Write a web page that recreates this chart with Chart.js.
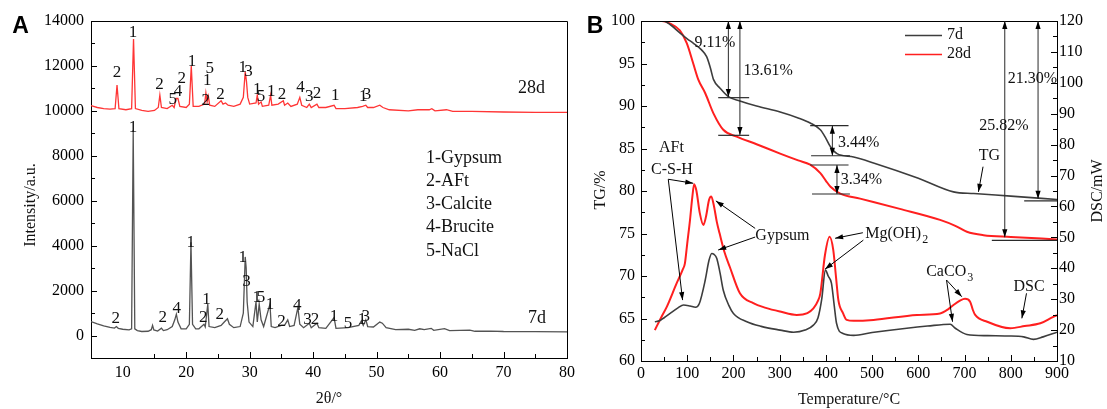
<!DOCTYPE html>
<html><head><meta charset="utf-8">
<script src="https://cdn.jsdelivr.net/npm/chart.js@4/dist/chart.umd.min.js"></script>
<style>
html,body{margin:0;padding:0;background:#fff;width:1107px;height:409px;overflow:hidden}
#wa{position:absolute;left:0;top:0;width:580px;height:409px}
#wb{position:absolute;left:580px;top:0;width:527px;height:409px}
</style></head><body>
<div id="wa"><canvas id="ca" width="580" height="409"></canvas></div>
<div id="wb"><canvas id="cb" width="527" height="409"></canvas></div>
<script>
// ---------- Panel A : XRD ----------
const xrd7dAngle = [5.0,6.0,7.0,8.0,8.7,9.0,9.3,10.0,11.0,11.4,11.65,11.9,12.3,13.0,14.0,14.5,14.7,14.9,15.5,16.1,16.4,17.0,17.8,18.2,18.45,18.7,19.2,20.0,20.5,20.75,21.0,21.5,22.0,22.8,23.0,23.4,23.6,24.5,25.5,26.0,26.5,26.8,27.5,28.5,29.0,29.3,29.45,29.6,29.9,30.5,31.0,31.2,31.5,31.8,32.2,33.2,33.4,34.0,35.0,35.5,36.0,36.3,37.0,37.6,37.9,38.5,39.4,39.7,40.6,40.9,42.0,43.3,43.6,45.5,47.2,47.6,47.9,48.3,48.6,49.5,50.5,50.9,51.5,53.0,55.0,56.0,56.8,57.5,58.6,59.0,60.7,61.5,64.7,65.5,68.0,70.0,75.0,80.0];
const xrd7dIntensity = [620,520,430,360,330,400,320,280,250,300,9150,300,220,180,190,260,450,250,200,330,220,260,400,700,950,600,300,300,500,4150,500,300,300,500,380,1400,400,350,450,600,750,500,350,400,1000,3500,3000,1500,600,400,1500,600,1400,700,400,1400,400,350,450,450,700,400,450,1250,500,350,550,350,550,350,320,800,320,350,450,650,450,700,400,380,600,550,350,260,280,230,300,260,320,230,310,220,240,190,200,180,170,160];
const xrd28dAngle = [5.0,6.0,7.0,8.0,8.8,9.1,9.4,10.5,11.4,11.7,12.0,13.0,14.0,15.0,15.6,15.85,16.1,17.0,17.8,18.1,18.4,18.7,19.0,20.0,20.5,20.8,21.1,22.0,22.9,23.1,23.3,23.5,23.7,24.5,25.5,25.8,26.2,26.6,27.5,28.5,29.0,29.3,29.5,29.7,30.0,31.0,31.2,31.4,31.8,32.0,33.0,33.3,33.5,34.5,35.3,35.5,36.0,36.5,37.5,37.9,38.2,39.0,39.4,39.7,40.6,40.9,42.0,43.3,43.6,45.0,47.0,47.8,48.3,48.6,49.5,50.5,51.0,52.0,55.0,56.5,57.2,58.3,58.7,59.2,61.0,62.0,65.0,70.0,75.0,80.0];
const xrd28dIntensity = [10230,10150,10100,10080,10100,11150,10100,10050,10100,13200,10100,10020,9980,10020,10150,10700,10150,10100,10250,10150,10550,10550,10200,10150,10300,12000,10200,10200,10300,10800,10400,10650,10250,10200,10450,10300,10350,10250,10200,10300,10600,11750,11300,10600,10300,10350,10700,10300,10400,10200,10250,10700,10250,10300,10450,10250,10350,10200,10300,10600,10250,10150,10300,10150,10300,10150,10150,10250,10100,10100,10150,10200,10250,10150,10150,10250,10150,10050,10000,10050,10050,10050,10100,10000,10050,9980,9980,9950,9930,9930];
const xrdTicksX = [10,20,30,40,50,60,70,80];
const xrdTicksY = [0,2000,4000,6000,8000,10000,12000,14000];
// peak labels: [2theta, intensity, phase number]
const peakLabels28d = [[9.1,11690,'2'],[11.6,13480,'1'],[15.8,11150,'2'],[17.9,10500,'5'],[18.7,10860,'4'],[19.3,11440,'2'],[20.9,12190,'1'],[23.7,11880,'5'],[23.3,11350,'1'],[23.1,10460,'2'],[25.4,10730,'2'],[28.9,11930,'1'],[29.8,11750,'3'],[31.2,10950,'1'],[31.8,10640,'5'],[33.4,10860,'1'],[35.1,10730,'2'],[38.0,11040,'4'],[39.4,10640,'3'],[40.6,10770,'2'],[43.5,10680,'1'],[47.9,10640,'1'],[48.5,10730,'3']];
const peakLabels7d = [[8.9,760,'2'],[11.6,9260,'1'],[16.3,800,'2'],[18.5,1200,'4'],[20.7,4140,'1'],[22.7,800,'2'],[23.2,1600,'1'],[25.3,930,'2'],[28.9,3470,'1'],[29.5,2400,'3'],[31.1,1690,'1'],[31.8,1690,'5'],[33.2,1380,'1'],[35.0,620,'2'],[37.5,1340,'4'],[39.1,710,'3'],[40.3,710,'2'],[43.3,850,'1'],[45.5,530,'5'],[47.7,710,'1'],[48.3,850,'3']];
const phaseLegend = ['1-Gypsum','2-AFt','3-Calcite','4-Brucite','5-NaCl'];

// ---------- Panel B : TG / DSC ----------
const tgTemp7d = [30,48,65,84,100,113,131,142,150,157,171,189,214,250,301,340,366,388,400,410,424,460,503,600,676,720,800,900];
const tg7d = [100,100,99.5,98.6,97.9,97.4,96.6,95.8,94.5,93.1,92.1,91.1,90.6,90.0,89.3,88.6,88.0,87.2,86.2,85.2,84.4,84.0,83.3,81.5,79.9,79.7,79.4,79.0];
const tgTemp28d = [25,45,63,84,99,113,124,139,157,178,207,250,301,340,366,388,400,410,431,474,560,647,680,705,741,800,900];
const tg28d = [100,100,99.7,98.9,97.4,95.0,93.1,91.5,89.1,87.2,86.4,85.5,84.4,83.6,83.1,82.1,81.2,80.5,79.7,79.1,77.9,76.6,75.9,75.2,74.8,74.6,74.3];
const dscTemp7d = [30,40,50,63,80,92,106,118,126,139,147,153,158,164,171,178,190,200,229,260,301,330,355,373,383,391,399,405,412,418,423,437,460,500,575,620,669,680,705,750,792,828,849,870,900];
const dsc7d = [22.7,23.0,24.0,25.4,27.2,28.1,27.8,27.4,28.5,36.2,42.5,44.8,44.5,43.2,38.5,32.9,28.0,25.4,22.7,21.2,20.0,19.3,20.0,21.6,24.0,30.0,39.4,37.5,35.2,28.0,22.2,18.9,18.3,19.2,20.6,21.3,21.9,20.6,18.6,18.2,18.1,17.8,17.0,17.8,19.3];
const dscTemp28d = [30,45,56,77,90,95,100,106,111,115,120,127,135,141,147,152,158,164,170,180,192,214,243,270,301,337,360,373,383,388,398,408,416,422,427,437,445,460,503,597,647,665,676,690,701,712,718,723,749,799,830,864,892,900];
const dsc28d = [20.0,24.5,27.6,35.1,39.5,41.6,48.0,55.6,63.0,67.2,65.0,58.0,54.0,57.0,62.0,63.2,60.0,55.0,51.3,45.5,40.5,31.9,28.7,27.2,26.0,24.9,25.5,27.0,29.5,31.9,44.3,50.2,45.9,37.0,29.7,25.5,23.3,23.0,23.3,24.9,25.4,26.8,28.1,29.5,30.1,29.2,26.5,24.9,22.7,20.6,21.3,22.2,24.3,24.8];
const tempTicks = [0,100,200,300,400,500,600,700,800,900];
const tgTicks = [60,65,70,75,80,85,90,95,100];
const dscTicks = [10,20,30,40,50,60,70,80,90,100,110,120];
// mass-loss double arrows: [T, TG from, TG to, label, label T, label TG]
const massLoss = [[189,100,91.05,'9.11%',160,97.4],[214,100,86.6,'13.61%',275,94.1],[414,87.68,84.15,'3.44%',471,85.7],[424,83.06,79.65,'3.34%',477,81.3],[787,100,74.55,'25.82%',785,87.7],[859,100,79.1,'21.30%',847,93.2]];
// horizontal reference bars: [TG, T start, T end]
const tgBars = [[90.98,167,234],[86.55,167,234],[87.68,366,449],[84.15,368,452],[83.06,366,449],[79.65,370,452],[74.2,759,900],[78.85,829,900]];

const SERIF = '"Liberation Serif","Times New Roman",serif';
const GRAY_A = '#535353', RED_A = '#ff3535';
const GRAY_B = '#3d3d3d', RED_B = '#ff1f1f';

function pts(xs, ys){ return xs.map((x,i)=>({x:x,y:ys[i]})); }
function setTicks(arr){ return function(s){ s.ticks = arr.map(v=>({value:v})); }; }
const plain = v => String(v);

function arrowHead(ctx, x1, y1, x2, y2, len, half){
  const a = Math.atan2(y2-y1, x2-x1);
  ctx.beginPath();
  ctx.moveTo(x2, y2);
  ctx.lineTo(x2 - len*Math.cos(a) + half*Math.sin(a), y2 - len*Math.sin(a) - half*Math.cos(a));
  ctx.lineTo(x2 - len*Math.cos(a) - half*Math.sin(a), y2 - len*Math.sin(a) + half*Math.cos(a));
  ctx.closePath(); ctx.fill();
}
function arrow(ctx, x1, y1, x2, y2){
  ctx.beginPath(); ctx.moveTo(x1,y1); ctx.lineTo(x2,y2); ctx.stroke();
  arrowHead(ctx, x1, y1, x2, y2, 8, 2.6);
}

// ---------- Chart A ----------
const plugA = {
  id:'plugA',
  afterDraw(chart){
    const ctx = chart.ctx, ca = chart.chartArea, sx = chart.scales.x, sy = chart.scales.y;
    ctx.save();
    ctx.strokeStyle = '#000'; ctx.lineWidth = 1;
    ctx.beginPath();
    ctx.moveTo(ca.left, ca.top + 0.5); ctx.lineTo(ca.right + 0.5, ca.top + 0.5); ctx.lineTo(ca.right + 0.5, ca.bottom);
    ctx.stroke();
    ctx.beginPath();
    for (let v = 15; v <= 75; v += 5){
      const x = Math.round(sx.getPixelForValue(v)) + 0.5, l = v % 10 === 0 ? 6 : 4;
      ctx.moveTo(x, ca.bottom); ctx.lineTo(x, ca.bottom - l);
    }
    for (let v = 0; v <= 13000; v += 1000){
      const y = Math.round(sy.getPixelForValue(v)) + 0.5, l = v % 2000 === 0 ? 6 : 4;
      ctx.moveTo(ca.left, y); ctx.lineTo(ca.left + l, y);
    }
    ctx.stroke();
    ctx.fillStyle = '#111';
    ctx.font = '17px ' + SERIF; ctx.textAlign = 'center'; ctx.textBaseline = 'middle';
    peakLabels28d.concat(peakLabels7d).forEach(p=>{
      ctx.fillText(p[2], sx.getPixelForValue(p[0]), sy.getPixelForValue(p[1]));
    });
    ctx.font = '18px ' + SERIF; ctx.textAlign = 'left';
    phaseLegend.forEach((t,i)=> ctx.fillText(t, 426, 158 + i*23.2));
    ctx.fillText('28d', 518, 88);
    ctx.fillText('7d', 528, 318);
    ctx.font = '16px ' + SERIF; ctx.textAlign = 'center';
    ctx.fillText('2θ/°', (ca.left + ca.right)/2, 399);
    ctx.save(); ctx.translate(31, 205); ctx.rotate(-Math.PI/2);
    ctx.fillText('Intensity/a.u.', 0, 0); ctx.restore();
    ctx.fillStyle = '#000';
    ctx.font = 'bold 23px "Liberation Sans",Arial,sans-serif';
    ctx.fillText('A', 20.5, 27);
    ctx.restore();
  }
};

new Chart(document.getElementById('ca'), {
  type:'line',
  data:{ datasets:[
    { data: pts(xrd28dAngle, xrd28dIntensity), borderColor: RED_A, borderWidth: 1.3, pointRadius: 0, tension: 0, fill:false },
    { data: pts(xrd7dAngle, xrd7dIntensity), borderColor: GRAY_A, borderWidth: 1.3, pointRadius: 0, tension: 0, fill:false }
  ]},
  options:{
    responsive:false, animation:false, events:[],
    layout:{ padding:{ left:0, right:12, top:21, bottom:0 } },
    plugins:{ legend:{display:false}, tooltip:{enabled:false} },
    scales:{
      x:{ type:'linear', min:5, max:80, afterBuildTicks: setTicks(xrdTicksX),
          grid:{display:false, drawTicks:false}, border:{display:true, color:'#000', width:1},
          ticks:{ color:'#000', font:{family:SERIF, size:16}, padding:5, autoSkip:false, maxRotation:0, callback: plain },
          afterFit(s){ s.height = 51; } },
      y:{ type:'linear', min:-1000, max:14000, afterBuildTicks: setTicks(xrdTicksY),
          grid:{display:false, drawTicks:false}, border:{display:true, color:'#000', width:1},
          ticks:{ color:'#000', font:{family:SERIF, size:16}, padding:7, autoSkip:false, callback: plain },
          afterFit(s){ s.width = 91; } }
    }
  },
  plugins:[plugA]
});

// ---------- Chart B ----------
const plugB = {
  id:'plugB',
  afterDraw(chart){
    const ctx = chart.ctx, ca = chart.chartArea, sx = chart.scales.x, sy = chart.scales.y, s2 = chart.scales.y2;
    const X = v=>sx.getPixelForValue(v), Y = v=>sy.getPixelForValue(v), D = v=>s2.getPixelForValue(v);
    ctx.save();
    ctx.strokeStyle = '#000'; ctx.lineWidth = 1;
    ctx.beginPath(); ctx.moveTo(ca.left, ca.top + 0.5); ctx.lineTo(ca.right, ca.top + 0.5); ctx.stroke();
    ctx.beginPath();
    for (let v = 50; v <= 850; v += 50){
      const x = Math.round(X(v)) + 0.5, l = v % 100 === 0 ? 6 : 4;
      ctx.moveTo(x, ca.bottom); ctx.lineTo(x, ca.bottom - l);
    }
    for (let v = 62.5; v <= 97.5; v += 2.5){
      const y = Math.round(Y(v)) + 0.5, l = v % 5 === 0 ? 6 : 4;
      ctx.moveTo(ca.left, y); ctx.lineTo(ca.left + l, y);
    }
    for (let v = 15; v <= 115; v += 5){
      const y = Math.round(D(v)) + 0.5, l = v % 10 === 0 ? 6 : 4;
      ctx.moveTo(ca.right, y); ctx.lineTo(ca.right - l, y);
    }
    ctx.stroke();

    // mass-loss annotations
    ctx.strokeStyle = '#2a2a2a'; ctx.fillStyle = '#000'; ctx.lineWidth = 1.2;
    tgBars.forEach(b=>{
      ctx.beginPath(); ctx.moveTo(X(b[1]), Y(b[0])); ctx.lineTo(X(b[2]), Y(b[0])); ctx.stroke();
    });
    ctx.lineWidth = 1;
    massLoss.forEach(m=>{
      const x = X(m[0]), y1 = Y(m[1]), y2 = Y(m[2]);
      ctx.beginPath(); ctx.moveTo(x, y1); ctx.lineTo(x, y2); ctx.stroke();
      arrowHead(ctx, x, y2, x, y1, 8, 2.6);
      arrowHead(ctx, x, y1, x, y2, 8, 2.6);
    });
    ctx.font = '16px ' + SERIF; ctx.textAlign = 'center'; ctx.textBaseline = 'middle'; ctx.fillStyle = '#111';
    massLoss.forEach(m=> ctx.fillText(m[3], X(m[4]), Y(m[5])));
    ctx.fillText('TG', X(754), Y(84.1));
    ctx.fillText('AFt', X(66), D(78.9));
    ctx.fillText('C-S-H', X(67), D(71.8));
    ctx.fillText('Gypsum', X(306), D(50.5));
    ctx.fillText('DSC', X(839.5), D(34.0));
    ctx.textAlign = 'left';
    let x0 = X(485), y0 = D(51.1);
    ctx.fillText('Mg(OH)', x0, y0);
    let w = ctx.measureText('Mg(OH)').width;
    ctx.font = '12px ' + SERIF; ctx.fillText('2', x0 + w + 1, y0 + 6);
    ctx.font = '16px ' + SERIF;
    x0 = X(617); y0 = D(38.9);
    ctx.fillText('CaCO', x0, y0);
    w = ctx.measureText('CaCO').width;
    ctx.font = '12px ' + SERIF; ctx.fillText('3', x0 + w + 1, y0 + 6);

    // pointer arrows
    ctx.strokeStyle = '#000'; ctx.fillStyle = '#000'; ctx.lineWidth = 1;
    arrow(ctx, X(740), Y(82.86), X(730), Y(79.9));
    arrow(ctx, X(59), D(68.8), X(113), D(67.5));
    arrow(ctx, X(59), D(68.8), X(90), D(29.7));
    arrow(ctx, X(247), D(52.9), X(162), D(61.8));
    arrow(ctx, X(247), D(50.1), X(167), D(45.9));
    arrow(ctx, X(480), D(51.5), X(420), D(49.7));
    arrow(ctx, X(481), D(49.1), X(398), D(39.7));
    arrow(ctx, X(661), D(36.2), X(694), D(30.8));
    arrow(ctx, X(661), D(36.2), X(674), D(22.7));
    arrow(ctx, X(834), D(31.9), X(824), D(23.8));

    // legend
    ctx.lineWidth = 1.5;
    ctx.strokeStyle = GRAY_B; ctx.beginPath(); ctx.moveTo(325, 35.5); ctx.lineTo(362, 35.5); ctx.stroke();
    ctx.strokeStyle = RED_B; ctx.beginPath(); ctx.moveTo(325, 54.5); ctx.lineTo(362, 54.5); ctx.stroke();
    ctx.fillStyle = '#111'; ctx.font = '16px ' + SERIF; ctx.textAlign = 'left';
    ctx.fillText('7d', 367, 35);
    ctx.fillText('28d', 367, 54);

    // axis titles
    ctx.textAlign = 'center';
    ctx.fillText('Temperature/°C', (ca.left + ca.right)/2, 400);
    ctx.save(); ctx.translate(21, 190); ctx.rotate(-Math.PI/2); ctx.fillText('TG/%', 0, 0); ctx.restore();
    ctx.save(); ctx.translate(518, 191); ctx.rotate(-Math.PI/2); ctx.fillText('DSC/mW', 0, 0); ctx.restore();
    ctx.fillStyle = '#000';
    ctx.font = 'bold 23px "Liberation Sans",Arial,sans-serif';
    ctx.fillText('B', 15, 27);
    ctx.restore();
  }
};

new Chart(document.getElementById('cb'), {
  type:'line',
  data:{ datasets:[
    { data: pts(tgTemp7d, tg7d), yAxisID:'y', borderColor: GRAY_B, borderWidth: 1.6, pointRadius: 0, cubicInterpolationMode:'monotone', fill:false },
    { data: pts(tgTemp28d, tg28d), yAxisID:'y', borderColor: RED_B, borderWidth: 2, pointRadius: 0, cubicInterpolationMode:'monotone', fill:false },
    { data: pts(dscTemp7d, dsc7d), yAxisID:'y2', borderColor: GRAY_B, borderWidth: 1.6, pointRadius: 0, cubicInterpolationMode:'monotone', fill:false },
    { data: pts(dscTemp28d, dsc28d), yAxisID:'y2', borderColor: RED_B, borderWidth: 2, pointRadius: 0, cubicInterpolationMode:'monotone', fill:false }
  ]},
  options:{
    responsive:false, animation:false, events:[],
    layout:{ padding:{ left:0, right:0, top:21, bottom:0 } },
    plugins:{ legend:{display:false}, tooltip:{enabled:false} },
    scales:{
      x:{ type:'linear', min:0, max:900, afterBuildTicks: setTicks(tempTicks),
          grid:{display:false, drawTicks:false}, border:{display:true, color:'#000', width:1},
          ticks:{ color:'#000', font:{family:SERIF, size:16}, padding:3, autoSkip:false, maxRotation:0, callback: plain },
          afterFit(s){ s.height = 48; } },
      y:{ type:'linear', position:'left', min:60, max:100, afterBuildTicks: setTicks(tgTicks),
          grid:{display:false, drawTicks:false}, border:{display:true, color:'#000', width:1},
          ticks:{ color:'#000', font:{family:SERIF, size:16}, padding:6, autoSkip:false, callback: plain },
          afterFit(s){ s.width = 61; } },
      y2:{ type:'linear', position:'right', min:10, max:120, afterBuildTicks: setTicks(dscTicks),
          grid:{display:false, drawTicks:false}, border:{display:true, color:'#000', width:1},
          ticks:{ color:'#000', font:{family:SERIF, size:16}, padding:2, autoSkip:false, callback: plain },
          afterFit(s){ s.width = 50; } }
    }
  },
  plugins:[plugB]
});
</script>
</body></html>
